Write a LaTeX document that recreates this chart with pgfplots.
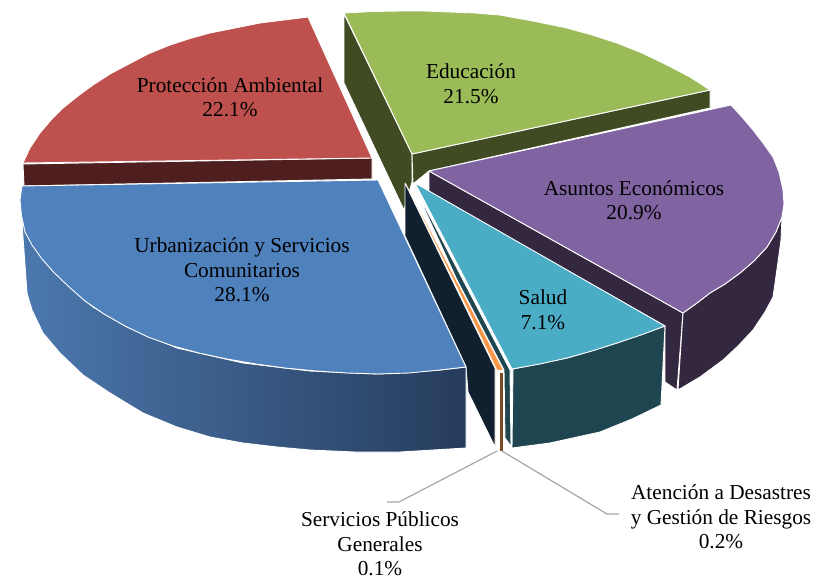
\documentclass[border=0pt]{standalone}
\usepackage{pgfplots}
\pgfplotsset{compat=1.18}
\usepackage{fontspec}
\setmainfont{Liberation Serif}
\definecolor{cGreen}{HTML}{9BBB59}
\definecolor{dGreen}{HTML}{404A23}
\definecolor{cRed}{HTML}{BE504D}
\definecolor{dRed}{HTML}{4F1F1F}
\definecolor{cPurple}{HTML}{8064A2}
\definecolor{dPurple}{HTML}{332840}
\definecolor{cTeal}{HTML}{4BACC6}
\definecolor{dTeal}{HTML}{1F4650}
\definecolor{cOrange}{HTML}{F79646}
\definecolor{dOrange}{HTML}{7A4A22}
\definecolor{cBlue}{HTML}{4F81BD}
\definecolor{dNavy}{HTML}{10202F}
\definecolor{bl}{HTML}{4C78AE}
\definecolor{br}{HTML}{263C5C}
\definecolor{lead}{HTML}{A6A6A6}
\tikzset{lab/.style={font=\fontsize{21.3}{24.5}\selectfont, align=center, text=black, inner sep=0pt}}
\begin{document}
\begin{tikzpicture}
\begin{axis}[
  scale only axis, width=831pt, height=579pt,
  xmin=0, xmax=831, ymin=0, ymax=579, y dir=reverse,
  hide axis, clip=false,
  every axis plot/.append style={line width=0.9pt, draw=white, mark=none, line join=round},
]
\path (axis cs:0,0) rectangle (axis cs:831,579);
% Educacion
\addplot[fill=dGreen] coordinates {(344,14)(344,83)(404,210)(412,182)(412,154)} -- cycle;
\addplot[fill=dGreen] coordinates {(412,154)(710,90)(710,108)(429,171)(413,184)} -- cycle;
\addplot[fill=cGreen] coordinates {(344,13)(372,11.5)(400,11)(425,11)(450,12)(475,13)(500,15)(533,21)(567,28)(592,35)(617,43)(642,53)(667,65)(690,77)(710,90)(412,154)} -- cycle;
% Proteccion Ambiental
\addplot[fill=dRed] coordinates {(23,164)(372,158)(372,179)(24,186)} -- cycle;
\addplot[fill=cRed] coordinates {(372,158)(308,17)(284,20)(260,23)(235,28)(210,33)(190,38.5)(170,45)(148,54)(127,65)(110,74)(93,85)(78,96)(63,108)(51,120)(40,133)(30,148)(23,163)} -- cycle;
% Asuntos Economicos
\addplot[fill=dPurple] coordinates {(429,171)(683,313)(677,390)(665,382)(665,326)(429,192)} -- cycle;
\addplot[fill=dPurple] coordinates {(683,313)(697,303)(710,293)(725,284)(740,273)(754,261)(767,247)(776,232)(782,217)(781,240)(778,262)(773,297)(765,312)(753,330)(738,346)(723,360)(700,377)(678,390)} -- cycle;
\addplot[fill=cPurple] coordinates {(429,171)(731,105)(742,117)(753,130)(763,143)(773,157)(779,172)(783,190)(784,204)(782,217)(776,232)(767,247)(754,261)(740,273)(725,284)(710,293)(697,303)(683,313)} -- cycle;
% Salud
\addplot[fill=dTeal] coordinates {(413,184)(510,370)(511,446)(505,438)(504,370)(457,280)} -- cycle;
\addplot[fill=dTeal] coordinates {(665,326)(617,343)(567,358)(513,369)(512,448)(550,443)(600,432)(632,419)(661,405)} -- cycle;
\addplot[fill=cTeal] coordinates {(415,183)(665,326)(641,335)(617,343)(592,351)(567,358)(540,364)(512,369)} -- cycle;
% Atencion a Desastres / Servicios Publicos
\addplot[fill=dOrange, draw=white, line width=0.5pt] coordinates {(499,372)(503,372)(503,451)(499,451)} -- cycle;
\addplot[fill=cOrange, draw=white, line width=0.3pt] coordinates {(406,184)(503,370)(497,370)(453.5,280)} -- cycle;
% Urbanizacion
\addplot[fill=dNavy] coordinates {(405,183)(495,368)(495,447)(468,392)(466,367)(405,236)} -- cycle;
\addplot[left color=bl, right color=br] coordinates {(22,223)(37,250)(60,277)(93,307)(127,327)(177,348)(243,363)(310,371)(378,374)(440,370)(466,367)(466,448)(400,452)(355,452)(310,450)(277,447)(243,443)(210,437)(177,427)(143,413)(110,393)(83,375)(60,353)(43,333)(32,310)(27,293)} -- cycle;
\addplot[fill=cBlue] coordinates {(378,180)(22,186)(20,200)(21.4,215)(25,232)(32,245)(42,259)(53.5,272)(68,286)(85,301)(104,314)(125,326)(148,337)(173,346)(199,353)(227,359)(256,364)(285,368)(316,371)(347,373)(378,374)(409,373)(440,370)(466,367)} -- cycle;
% Leader lines
\addplot[draw=lead, line width=1.2pt] coordinates {(497,451)(399,502)(387,502)};
\addplot[draw=lead, line width=1.2pt] coordinates {(502,451)(607,514)(619,514)};
% Labels
\node[lab] at (axis cs:230,97) {Protección Ambiental\\22.1\%};
\node[lab] at (axis cs:471,83.5) {Educación\\21.5\%};
\node[lab] at (axis cs:634,200) {Asuntos Económicos\\20.9\%};
\node[lab] at (axis cs:242,270) {Urbanización y Servicios\\Comunitarios\\28.1\%};
\node[lab] at (axis cs:543,310) {Salud\\7.1\%};
\node[lab] at (axis cs:380,544) {Servicios Públicos\\Generales\\0.1\%};
\node[lab] at (axis cs:721,517) {Atención a Desastres\\y Gestión de Riesgos\\0.2\%};
\end{axis}
\end{tikzpicture}
\end{document}
